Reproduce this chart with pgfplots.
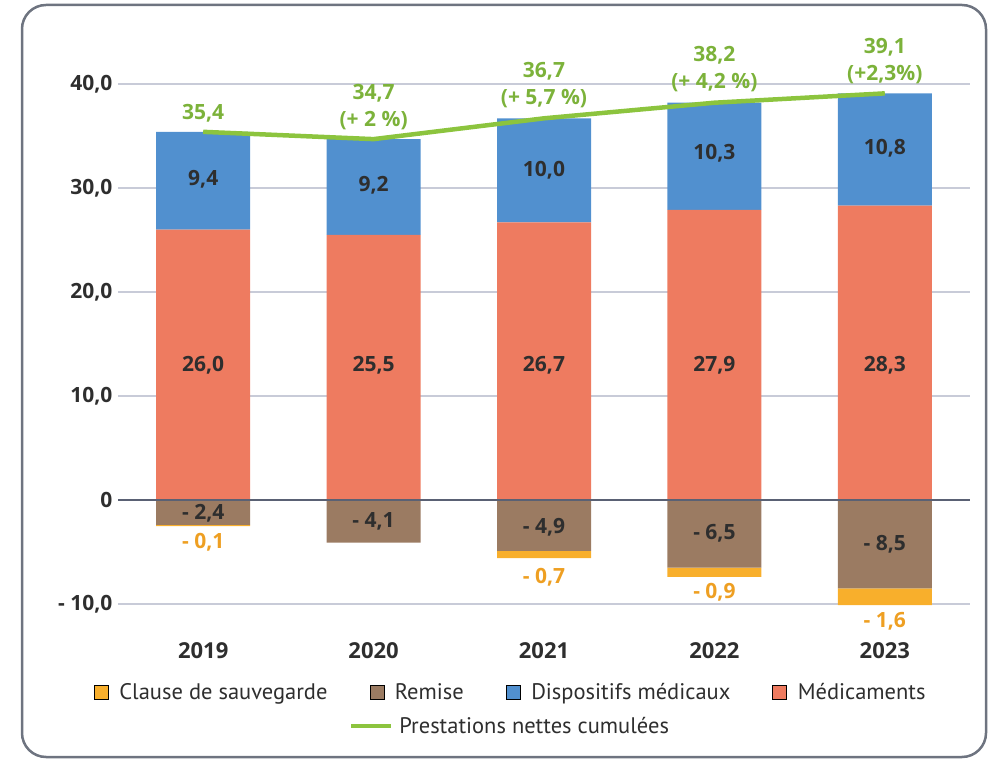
\documentclass[border=0pt]{standalone}
\usepackage{pgfplots}
\pgfplotsset{compat=1.18}
\usepackage{fontspec}
\setmainfont{Open Sans}
\newfontfamily\legfont{PT Sans}
\definecolor{med}{HTML}{EE7B60}
\definecolor{dispo}{HTML}{5190CF}
\definecolor{remise}{HTML}{9B7B62}
\definecolor{clause}{HTML}{F8AF2C}
\definecolor{vert}{HTML}{8CC43E}
\definecolor{vertlab}{HTML}{7CB23A}
\definecolor{orangelab}{HTML}{EE9F22}
\definecolor{gridc}{HTML}{C8CBD8}
\definecolor{zeroc}{HTML}{5A6174}
\definecolor{txt}{HTML}{2E2E2E}
\definecolor{framec}{HTML}{6E7480}
\pgfplotsset{
  base/.style={scale only axis, width=852pt, height=520pt, at={(118pt,157pt)}, anchor=south west,
    xmin=-0.5, xmax=4.5, ymin=-10, ymax=40, clip=false},
  sq/.style={legend image code/.code={\fill[##1] (0pt,-7pt) rectangle (14pt,7pt);}},
  lineleg/.style={legend image code/.code={\draw[##1] (0pt,0pt) -- (40pt,0pt);}},
}
\newcommand{\lab}{\fontsize{21}{27}\selectfont\bfseries}
\newcommand{\yr}{\fontsize{22}{26}\selectfont\bfseries}
\begin{document}
\begin{tikzpicture}
\useasboundingbox (0,0) rectangle (990pt,761pt);
\draw[framec, line width=2.5pt, rounded corners=24pt] (22pt,4pt) rectangle (986pt,756pt);

\begin{axis}[base, ybar stacked, bar width=94pt,
  axis line style={draw=none}, major tick length=0pt,
  ymajorgrids, grid style={gridc, line width=1.5pt},
  ytick={-10,0,10,20,30,40}, yticklabels={{- 10,0},{0},{10,0},{20,0},{30,0},{40,0}},
  xtick={0,1,2,3,4}, xticklabels={2019,2020,2021,2022,2023},
  yticklabel style={font=\lab, text=txt, xshift=-2pt},
  xticklabel style={font=\yr, text=txt, yshift=-35pt},
]
\addplot[fill=med, draw=none] coordinates {(0,26.0) (1,25.5) (2,26.7) (3,27.9) (4,28.3)};
\addplot[fill=dispo, draw=none] coordinates {(0,9.4) (1,9.2) (2,10.0) (3,10.3) (4,10.8)};
\end{axis}

\begin{axis}[base, ybar stacked, bar width=94pt, hide axis,
  legend style={draw=none, fill=none, at={(rel axis cs:0.460,-0.2346)}, anchor=center,
    font=\legfont\fontsize{22.5}{26}\selectfont, text=txt,
    /tikz/every odd column/.append style={column sep=4pt}},
]
\addplot[fill=remise, draw=none, forget plot] coordinates {(0,-2.4) (1,-4.1) (2,-4.9) (3,-6.5) (4,-8.5)};
\addplot[fill=clause, draw=none, forget plot] coordinates {(0,-0.1) (1,0) (2,-0.7) (3,-0.9) (4,-1.6)};
\addlegendimage{lineleg, vert, line width=4.5pt}
\addlegendentry{Prestations nettes cumulées}
\end{axis}

\begin{axis}[base, hide axis, legend columns=4,
  legend style={draw=none, fill=none, at={(rel axis cs:0.461,-0.169)}, anchor=center,
    font=\legfont\fontsize{22.5}{26}\selectfont, text=txt,
    /tikz/every odd column/.append style={column sep=9pt},
    /tikz/every even column/.append style={column sep=40pt}},
]
\draw[zeroc, line width=1.8pt] (axis cs:-0.5,0) -- (axis cs:4.5,0);
\addlegendimage{sq, fill=clause}\addlegendentry{Clause de sauvegarde}
\addlegendimage{sq, fill=remise}\addlegendentry{Remise}
\addlegendimage{sq, fill=dispo}\addlegendentry{Dispositifs médicaux}
\addlegendimage{sq, fill=med}\addlegendentry{Médicaments}
\addplot[vert, line width=4.5pt, forget plot] coordinates {(0,35.4) (1,34.7) (2,36.7) (3,38.2) (4,39.1)};
% labels
\begin{scope}[every node/.style={font=\lab, text=txt}]
\node at (axis cs:0,30.8) {9,4};
\node at (axis cs:1,30.3) {9,2};
\node at (axis cs:2,31.7) {10,0};
\node at (axis cs:3,33.3) {10,3};
\node at (axis cs:4,33.8) {10,8};
\node at (axis cs:0,13.0) {26,0};
\node at (axis cs:1,13.0) {25,5};
\node at (axis cs:2,13.0) {26,7};
\node at (axis cs:3,13.0) {27,9};
\node at (axis cs:4,13.0) {28,3};
\node at (axis cs:0,-1.25) {- 2,4};
\node at (axis cs:1,-2.1) {- 4,1};
\node at (axis cs:2,-2.6) {- 4,9};
\node at (axis cs:3,-3.2) {- 6,5};
\node at (axis cs:4,-4.3) {- 8,5};
\end{scope}
\begin{scope}[every node/.style={font=\lab, text=orangelab}]
\node at (axis cs:0,-4.1) {- 0,1};
\node at (axis cs:2,-7.4) {- 0,7};
\node at (axis cs:3,-8.85) {- 0,9};
\node at (axis cs:4,-11.7) {- 1,6};
\end{scope}
\begin{scope}[every node/.style={font=\lab, text=vertlab, align=center, inner sep=0pt}]
\node at (axis cs:0,37.2) {35,4};
\node at (axis cs:1,37.8) {34,7\\(+ 2 \%)};
\node at (axis cs:2,39.9) {36,7\\(+ 5,7 \%)};
\node at (axis cs:3,41.4) {38,2\\(+ 4,2 \%)};
\node at (axis cs:4,42.2) {39,1\\(+2,3\%)};
\end{scope}
\end{axis}
\end{tikzpicture}
\end{document}
